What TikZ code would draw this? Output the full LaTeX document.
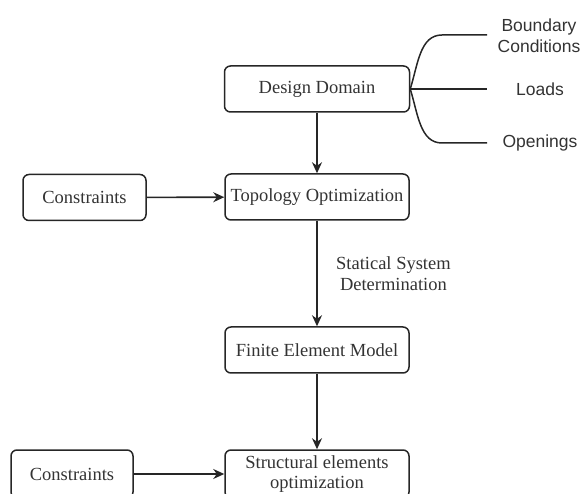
\documentclass[tikz,border=0pt]{standalone}
\usepackage{fontspec}
\setmainfont{Liberation Serif}
\newfontfamily\labfont{Liberation Sans}
\usetikzlibrary{arrows.meta}

\begin{document}
\begin{tikzpicture}[x=1pt,y=-1pt]
  \colorlet{linecol}{black!85}
  \colorlet{textcol}{black!80}
  \tikzset{>={Stealth[length=11pt,width=10pt]}}
  \tikzstyle{box}=[draw=linecol,line width=1.5pt,rounded corners=6pt,
                   text=textcol,font=\fontsize{18.5}{20}\selectfont,
                   minimum height=46pt,inner sep=2pt,align=center]
  \tikzstyle{flow}=[->,linecol,line width=1.6pt]
  \tikzstyle{branch}=[linecol,line width=1.5pt]
  \tikzstyle{side}=[text=textcol,font=\labfont\fontsize{17.5}{21}\selectfont,align=center]

  \useasboundingbox (0,0) rectangle (584,494);

  % Boxes
  \node[box,minimum width=185pt] (dd)  at (317,89)  {Design Domain};
  \node[box,minimum width=184pt] (top) at (317,197) {Topology Optimization};
  \node[box,minimum width=123pt] (con1) at (84.5,197.5) {Constraints};
  \node[box,minimum width=184pt] (fem) at (317,350) {Finite Element Model};
  \node[box,minimum width=184pt,minimum height=48pt] (seo) at (317,474) {Structural elements\\optimization};
  \node[box,minimum width=122pt,minimum height=48pt] (con2) at (72,474) {Constraints};

  % Side labels
  \node[side] (bc) at (539,36)  {Boundary\\Conditions};
  \node[side] (lo) at (540,89)  {Loads};
  \node[side] (op) at (540,143) {Openings};
  \coordinate (bcend) at (487,35);
  \coordinate (loend) at (487,89);
  \coordinate (opend) at (487,143);

  % Branches
  \draw[branch] (dd.east) .. controls (418,64) and (420,35) .. (442,35) -- (bcend);
  \draw[branch] (dd.east) -- (loend);
  \draw[branch] (dd.east) .. controls (418,114) and (420,143) .. (442,143) -- (opend);

  % Flow
  \draw[flow] (dd) -- (top);
  \draw[flow] (con1) -- (top);
  \draw[flow] (top) -- node[right=15pt,text=textcol,align=center,
      font=\fontsize{18.5}{21}\selectfont] (ssd) {Statical System\\Determination} (fem);
  \draw[flow] (fem) -- (seo);
  \draw[flow] (con2) -- (seo);
\end{tikzpicture}
\end{document}
